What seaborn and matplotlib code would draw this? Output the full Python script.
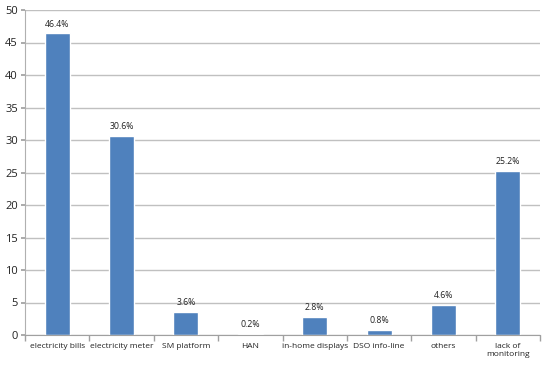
import matplotlib
matplotlib.use("Agg")
import matplotlib.pyplot as plt
import seaborn as sns
import pandas as pd

categories = ["electricity bills", "electricity meter", "SM platform", "HAN",
              "in-home displays", "DSO info-line", "others", "lack of\nmonitoring"]
values = [46.4, 30.6, 3.6, 0.2, 2.8, 0.8, 4.6, 25.2]
yticks = [0, 5, 10, 15, 20, 25, 30, 35, 40, 45, 50]

sns.set_theme(style="white")
plt.rcParams['font.family'] = ['Open Sans', 'DejaVu Sans']

df = pd.DataFrame({"cat": categories, "val": values})
fig = plt.figure(figsize=(5.5, 3.67), dpi=100)
ax = fig.add_axes([25/550, 1-335/367, (540-25)/550, (335-10)/367])
sns.barplot(data=df, x="cat", y="val", color="#4F81BD", saturation=1, width=0.39, ax=ax)

ax.set_ylim(0, 50)
ax.set_xlim(-0.5, len(categories)-0.5)
ax.set_yticks(yticks)
ax.set_yticklabels([str(t) for t in yticks], fontsize=8, color="#222222")
ax.yaxis.grid(True, color="#C0C0C0", linewidth=1)
ax.set_axisbelow(True)
ax.set_xlabel("")
ax.set_ylabel("")
ax.set_xticks(range(len(categories)))
ax.set_xticklabels(categories, fontsize=6.0, color="#222222")
ax.tick_params(axis="x", length=0, pad=6)
ax.tick_params(axis="y", length=3, color="#A0A0A0", left=True, pad=2)
ax.set_xticks([i - 0.5 for i in range(len(categories) + 1)], minor=True)
ax.tick_params(axis="x", which="minor", length=4, color="#A0A0A0", bottom=True)

for s in ["top", "right"]:
    ax.spines[s].set_visible(False)
ax.spines["left"].set_color("#B0B0B0")
ax.spines["bottom"].set_color("#A0A0A0")
ax.spines["left"].set_linewidth(0.8)
ax.spines["bottom"].set_linewidth(0.8)

for i, v in enumerate(values):
    ax.annotate(f"{v}%", (i, v), xytext=(0, 3.5), textcoords="offset points",
                ha="center", va="bottom", fontsize=6.3, color="#222222")

fig.savefig("out.png", dpi=100)
